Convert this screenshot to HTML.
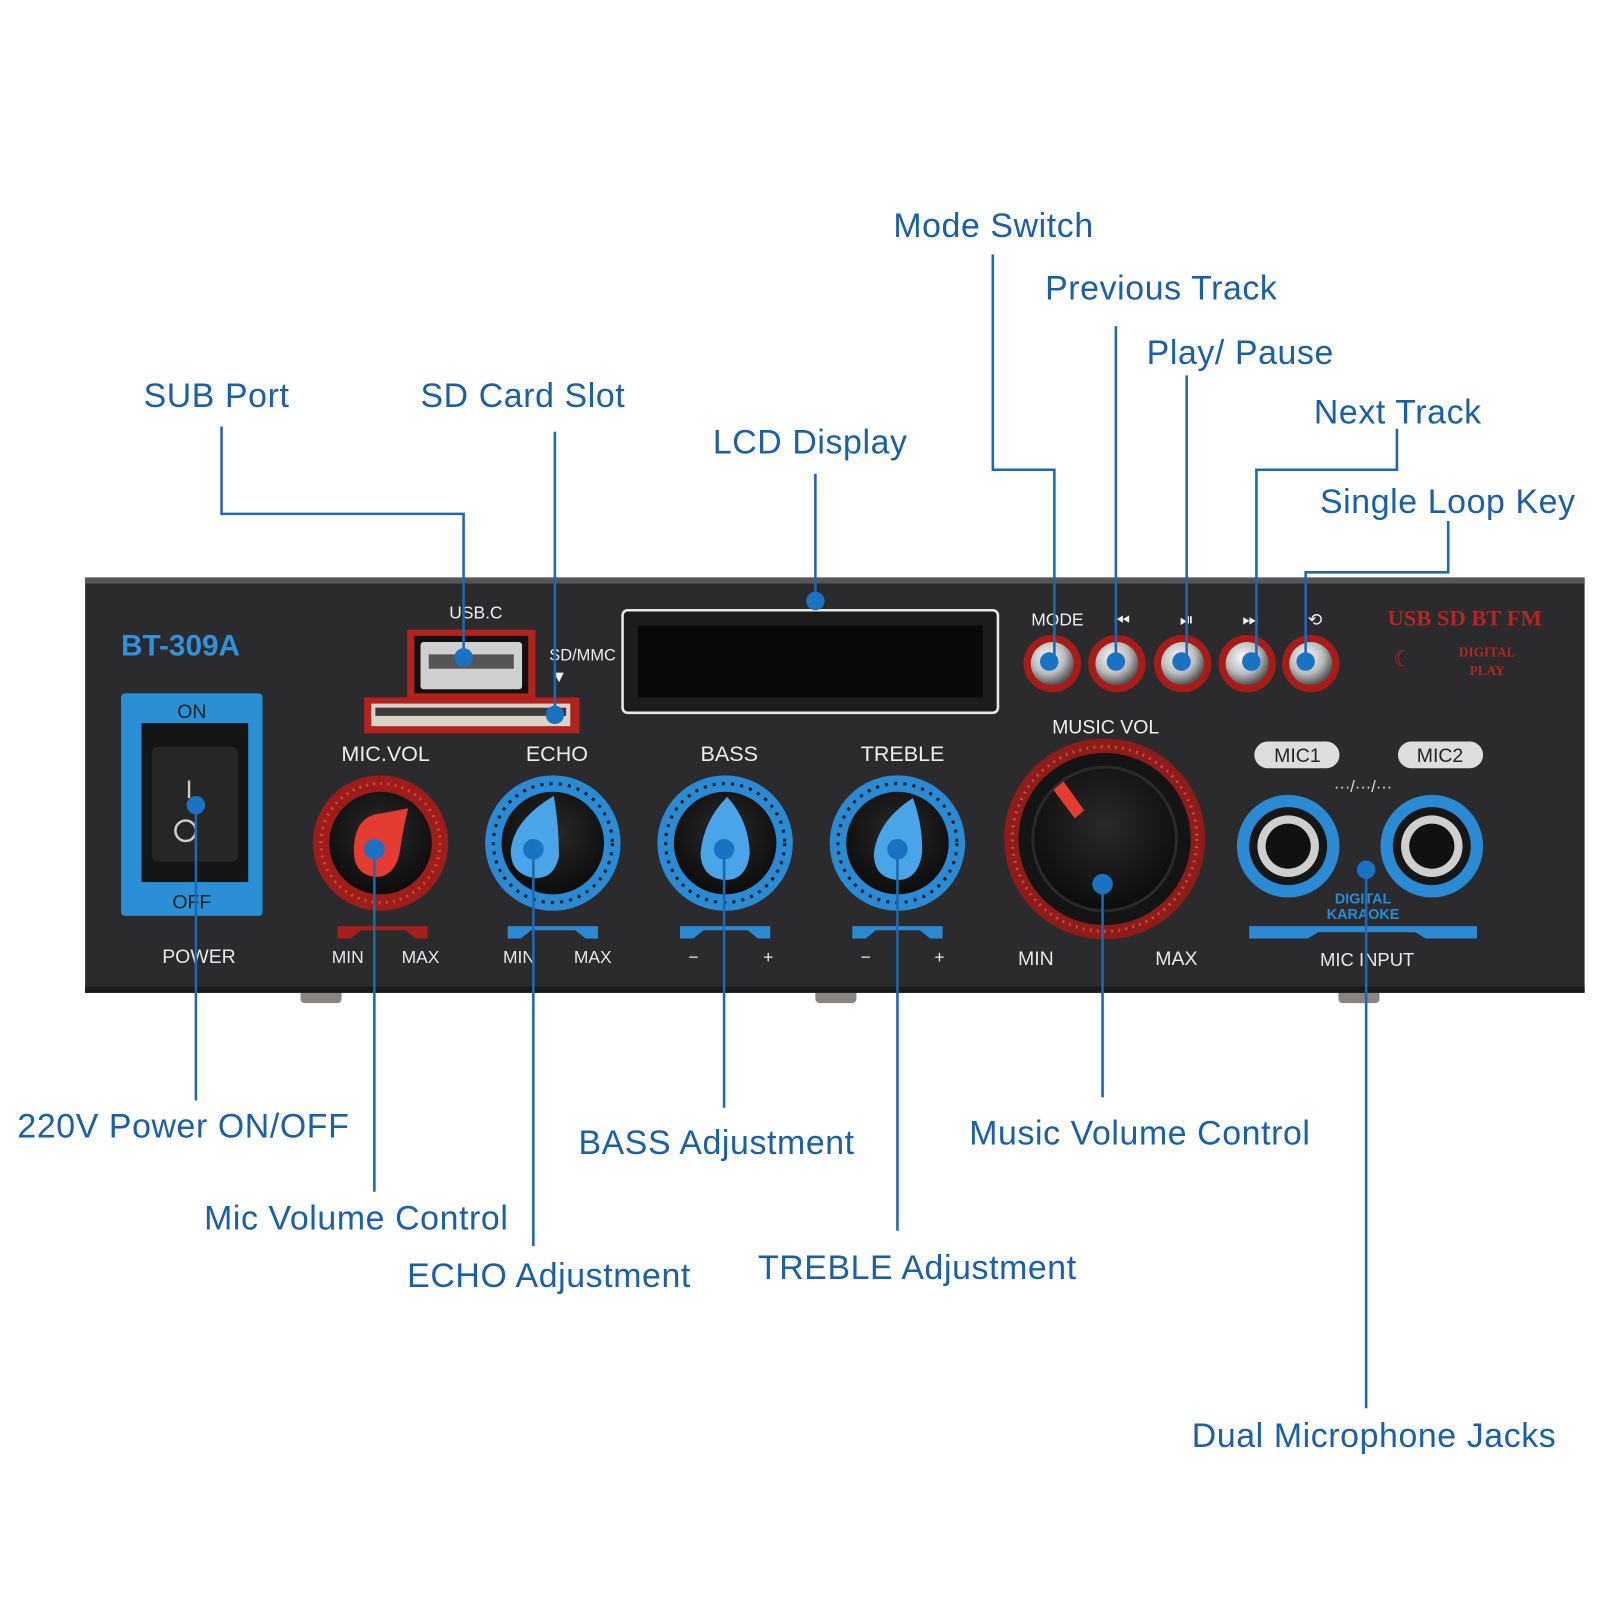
<!DOCTYPE html>
<html><head><meta charset="utf-8"><style>
html,body{margin:0;padding:0;background:#fff;width:1600px;height:1600px;overflow:hidden}
#w{position:absolute;left:0;top:0;width:1560px;height:1560px;transform:scale(1.02564);transform-origin:0 0}
svg{position:absolute;left:0;top:0}
</style></head><body><div id="w">
<svg width="1560" height="1560" viewBox="0 0 1560 1560" font-family="Liberation Sans, sans-serif">
<defs>
<radialGradient id="sil" cx="40%" cy="35%" r="65%"><stop offset="0" stop-color="#fafafa"/><stop offset="0.6" stop-color="#bbb"/><stop offset="1" stop-color="#555"/></radialGradient>
<radialGradient id="blk" cx="50%" cy="40%" r="60%"><stop offset="0" stop-color="#2a2a2a"/><stop offset="1" stop-color="#0c0c0c"/></radialGradient>
</defs>
<rect x="293" y="964" width="40" height="14" rx="4" fill="#8a8580"/>
<rect x="795" y="964" width="40" height="14" rx="4" fill="#8a8580"/>
<rect x="1305" y="964" width="40" height="14" rx="4" fill="#8a8580"/>
<rect x="83" y="563" width="1462" height="405" fill="#2b2b2d"/>
<rect x="83" y="563" width="1462" height="6" fill="#55555a"/>
<rect x="83" y="962" width="1462" height="6" fill="#1a1a1a"/>
<text x="118" y="639" font-size="29" font-weight="bold" fill="#2e93dc">BT-309A</text>
<rect x="118" y="676" width="138" height="217" rx="4" fill="#2b8fd6"/>
<rect x="138" y="705" width="104" height="155" fill="#151515"/>
<rect x="148" y="728" width="84" height="112" rx="6" fill="#262626"/>
<text x="187" y="700" font-size="19" fill="#222" text-anchor="middle">ON</text>
<text x="187" y="886" font-size="19" fill="#222" text-anchor="middle">OFF</text>
<text x="181" y="778" font-size="24" fill="#ccc">I</text>
<circle cx="181" cy="810" r="10" fill="none" stroke="#ccc" stroke-width="2.5"/>
<text x="194" y="939" font-size="19" fill="#e8e8e8" text-anchor="middle">POWER</text>
<text x="464" y="603" font-size="17" fill="#eee" text-anchor="middle">USB.C</text>
<rect x="397" y="614" width="125" height="66" fill="#b3231e"/>
<rect x="404" y="620" width="111" height="56" fill="#111"/>
<rect x="410" y="626" width="99" height="46" rx="3" fill="#cfcfcf"/>
<rect x="418" y="638" width="83" height="14" fill="#555"/>
<rect x="355" y="680" width="210" height="35" fill="#b3231e"/>
<rect x="362" y="686" width="194" height="22" fill="#d9d4c8"/>
<rect x="366" y="690" width="186" height="8" fill="#3a3a3a"/>
<text x="568" y="644" font-size="16" fill="#eee" text-anchor="middle">SD/MMC</text>
<text x="545" y="665" font-size="16" fill="#eee" text-anchor="middle">▼</text>
<rect x="607" y="595" width="366" height="100" rx="5" fill="#1c1c1c" stroke="#e8e8e8" stroke-width="2.5"/>
<rect x="622" y="610" width="336" height="70" fill="#080808"/>
<g font-size="17" fill="#eee" text-anchor="middle">
<text x="1031" y="610">MODE</text><text x="1094" y="610">⏮</text><text x="1157" y="610">⏯</text><text x="1219" y="610">⏭</text><text x="1282" y="610">⟲</text>
</g>
<g>
<circle cx="1026" cy="647" r="28" fill="#a81c18"/><circle cx="1026" cy="647" r="21" fill="url(#sil)"/>
<circle cx="1089" cy="647" r="28" fill="#a81c18"/><circle cx="1089" cy="647" r="21" fill="url(#sil)"/>
<circle cx="1153" cy="647" r="28" fill="#a81c18"/><circle cx="1153" cy="647" r="21" fill="url(#sil)"/>
<circle cx="1216" cy="647" r="28" fill="#a81c18"/><circle cx="1216" cy="647" r="21" fill="url(#sil)"/>
<circle cx="1278" cy="647" r="28" fill="#a81c18"/><circle cx="1278" cy="647" r="21" fill="url(#sil)"/>
</g>
<text x="1428" y="610" font-size="22" font-family="Liberation Serif, serif" font-weight="bold" fill="#b52620" text-anchor="middle">USB SD BT FM</text>
<text x="1368" y="650" font-size="22" fill="#b52620" text-anchor="middle">☾</text>
<text x="1450" y="640" font-size="13" font-family="Liberation Serif, serif" font-weight="bold" fill="#b52620" text-anchor="middle">DIGITAL</text>
<text x="1450" y="658" font-size="13" font-family="Liberation Serif, serif" font-weight="bold" fill="#b52620" text-anchor="middle">PLAY</text>
<g font-size="21" fill="#eee" text-anchor="middle">
<text x="376" y="742">MIC.VOL</text><text x="543" y="742">ECHO</text><text x="711" y="742">BASS</text><text x="880" y="742">TREBLE</text>
<text x="1078" y="715" font-size="19">MUSIC VOL</text>
</g>
<g>
<circle cx="371" cy="822" r="66" fill="#9e1d1a"/><circle cx="371" cy="822" r="58" fill="none" stroke="#c54a40" stroke-width="3" stroke-dasharray="2 5"/><circle cx="371" cy="822" r="50" fill="url(#blk)"/>
<path d="M345 830 Q345 795 372 793 L398 788 Q392 812 390 830 Q385 856 365 855 Q345 852 345 830Z" fill="#e43b33"/>
<circle cx="539" cy="822" r="66" fill="#2a8bd4"/><circle cx="539" cy="822" r="58" fill="none" stroke="#1a1a1a" stroke-width="3" stroke-dasharray="3 6"/><circle cx="539" cy="822" r="50" fill="url(#blk)"/>
<path d="M498 830 Q500 800 540 776 Q545 805 545 835 Q540 858 520 856 Q498 852 498 830Z" fill="#4aa4e8"/>
<circle cx="707" cy="822" r="66" fill="#2a8bd4"/><circle cx="707" cy="822" r="58" fill="none" stroke="#1a1a1a" stroke-width="3" stroke-dasharray="3 6"/><circle cx="707" cy="822" r="50" fill="url(#blk)"/>
<path d="M683 832 Q686 800 709 777 Q730 800 731 832 Q728 858 707 858 Q684 856 683 832Z" fill="#4aa4e8"/>
<circle cx="875" cy="822" r="66" fill="#2a8bd4"/><circle cx="875" cy="822" r="58" fill="none" stroke="#1a1a1a" stroke-width="3" stroke-dasharray="3 6"/><circle cx="875" cy="822" r="50" fill="url(#blk)"/>
<path d="M852 832 Q856 800 890 778 Q900 805 899 832 Q895 858 875 858 Q852 856 852 832Z" fill="#4aa4e8"/>
<circle cx="1077" cy="818" r="98" fill="#8e1c19"/><circle cx="1077" cy="818" r="90" fill="none" stroke="#c54a40" stroke-width="3" stroke-dasharray="2 5"/><circle cx="1077" cy="818" r="84" fill="#141414"/><circle cx="1077" cy="818" r="70" fill="url(#blk)" stroke="#2a2a2a" stroke-width="3"/>
<path d="M1027 770 L1037 762 L1057 790 L1048 798Z" fill="#e43b33"/>
</g>
<g>
<path d="M329 903 H417 V915 H405 L395 907 H352 L342 915 H329Z" fill="#a51f1b"/>
<path d="M495 903 H583 V915 H571 L561 907 H518 L508 915 H495Z" fill="#2a8bd4"/>
<path d="M663 903 H751 V915 H739 L729 907 H686 L676 915 H663Z" fill="#2a8bd4"/>
<path d="M831 903 H919 V915 H907 L897 907 H854 L844 915 H831Z" fill="#2a8bd4"/>
<path d="M1218 903 H1440 V915 H1390 L1380 909 H1285 L1275 915 H1218Z" fill="#2a8bd4"/>
</g>
<g font-size="17" fill="#e8e8e8" text-anchor="middle">
<text x="339" y="939">MIN</text><text x="410" y="939">MAX</text>
<text x="506" y="939">MIN</text><text x="578" y="939">MAX</text>
<text x="676" y="939">−</text><text x="749" y="939">+</text>
<text x="844" y="939">−</text><text x="916" y="939">+</text>
<text x="1010" y="941" font-size="19">MIN</text><text x="1147" y="941" font-size="19">MAX</text>
<text x="1333" y="942" font-size="18">MIC INPUT</text>
</g>
<rect x="1223" y="723" width="83" height="26" rx="13" fill="#ddd"/>
<rect x="1363" y="723" width="83" height="26" rx="13" fill="#ddd"/>
<text x="1265" y="743" font-size="19" fill="#222" text-anchor="middle">MIC1</text>
<text x="1404" y="743" font-size="19" fill="#222" text-anchor="middle">MIC2</text>
<text x="1329" y="772" font-size="16" fill="#ddd" text-anchor="middle">···/···/···</text>
<circle cx="1256" cy="825" r="50" fill="#2a8bd4"/><circle cx="1256" cy="825" r="38" fill="#161616"/><circle cx="1256" cy="825" r="30" fill="#cfcfcf"/><circle cx="1256" cy="825" r="22" fill="#111"/>
<circle cx="1396" cy="825" r="50" fill="#2a8bd4"/><circle cx="1396" cy="825" r="38" fill="#161616"/><circle cx="1396" cy="825" r="30" fill="#cfcfcf"/><circle cx="1396" cy="825" r="22" fill="#111"/>
<text x="1329" y="881" font-size="14" font-weight="bold" fill="#2a8bd4" text-anchor="middle">DIGITAL</text>
<text x="1329" y="896" font-size="14" font-weight="bold" fill="#2a8bd4" text-anchor="middle">KARAOKE</text>
<g fill="none" stroke="#1f67b0" stroke-width="2.5">
<path d="M968 248 V458 H1028 V645"/>
<path d="M1088 318 V645"/>
<path d="M1157 366 V645"/>
<path d="M1362 418 V458 H1225 V645"/>
<path d="M1412 508 V558 H1273 V645"/>
<path d="M216 416 V501 H452 V640"/>
<path d="M541 421 V697"/>
<path d="M795 462 V585"/>
<path d="M191 785 V1073"/>
<path d="M365 828 V1162"/>
<path d="M520 828 V1215"/>
<path d="M706 828 V1080"/>
<path d="M875 828 V1200"/>
<path d="M1075 862 V1070"/>
<path d="M1332 848 V1373"/>
</g>
<g fill="#1a72c2">
<circle cx="1023" cy="645" r="9"/><circle cx="1088" cy="645" r="9"/><circle cx="1152" cy="645" r="9"/><circle cx="1220" cy="645" r="9"/><circle cx="1273" cy="645" r="9"/>
<circle cx="452" cy="641" r="9"/><circle cx="541" cy="697" r="9"/><circle cx="795" cy="586" r="9"/>
<circle cx="191" cy="785" r="9"/><circle cx="365" cy="828" r="10"/><circle cx="520" cy="828" r="10"/><circle cx="706" cy="828" r="10"/><circle cx="875" cy="828" r="10"/><circle cx="1075" cy="862" r="10"/><circle cx="1332" cy="848" r="9"/>
</g>
<g font-size="33" fill="#1a5fa8" letter-spacing="0.6">
<text x="871" y="231">Mode Switch</text>
<text x="1019" y="292">Previous Track</text>
<text x="1118" y="355">Play/ Pause</text>
<text x="1281" y="413">Next Track</text>
<text x="1287" y="500">Single Loop Key</text>
<text x="140" y="397">SUB Port</text>
<text x="410" y="397">SD Card Slot</text>
<text x="695" y="442">LCD Display</text>
<text x="17" y="1109">220V Power ON/OFF</text>
<text x="199" y="1199">Mic Volume Control</text>
<text x="397" y="1255">ECHO Adjustment</text>
<text x="564" y="1125">BASS Adjustment</text>
<text x="739" y="1247">TREBLE Adjustment</text>
<text x="945" y="1116">Music Volume Control</text>
<text x="1162" y="1411">Dual Microphone Jacks</text>
</g>
</svg>
</div></body></html>
